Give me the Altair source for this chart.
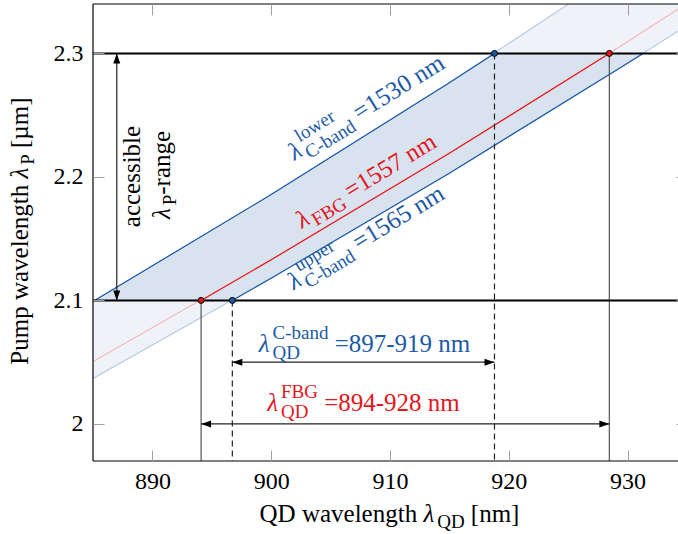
import math
import altair as alt
import pandas as pd

FONT = "'Liberation Serif', 'DejaVu Serif', serif"
BLUE = "#1d5aa6"
RED = "#e3161c"
LIGHT_BLUE = "#b4c8e6"
LIGHT_RED = "#f5b3b5"
DARK_FILL = "#d9e3f0"
LIGHT_FILL = "#eff3f9"
TICK_GRAY = "#a0a0a0"

# ---- axis window and layout ----
X_MIN, X_MAX = 885.0, 934.25
Y_MIN, Y_MAX = 1.97, 2.34
PAD_L, PAD_T, PAD_R, PAD_B = 93, 4, 0, 73
PLOT_W, PLOT_H = 585, 457

# ---- data ----
qd_nm = [885.0, 900.0, 915.0, 930.0, 935.0]
pump_cband_lower = [2.0993, 2.1857, 2.2763, 2.3715, 2.4043]   # signal 1530 nm
pump_fbg = [2.0505, 2.1329, 2.2191, 2.3094, 2.3405]           # signal 1557 nm
pump_cband_upper = [2.0368, 2.1180, 2.2030, 2.2920, 2.3226]   # signal 1565 nm

signal_nm = [1530, 1557, 1565]
qd_at_pump_min = [885.13, 894.10, 896.73]
qd_at_pump_max = [918.80, 928.47, 931.31]
pump_min, pump_max = 2.1, 2.3

# accessible part of the C-band region (inside the pump window)
band_qd = [885.13, 896.73, 900.0, 915.0, 918.80, 930.0, 931.31]
band_top = [2.1, 2.1667, 2.1857, 2.2763, 2.3, 2.3, 2.3]
band_bottom = [2.1, 2.1, 2.1180, 2.2030, 2.2253, 2.2920, 2.3]

cband_arrow_y = 2.05
fbg_arrow_y = 2.0
range_arrow_x = 887.0

x_ticks = [890, 900, 910, 920, 930]
y_ticks = [2.0, 2.1, 2.2, 2.3]

curves = dict(zip(signal_nm, [pump_cband_lower, pump_fbg, pump_cband_upper]))
line_color = {1530: (BLUE, LIGHT_BLUE), 1557: (RED, LIGHT_RED), 1565: (BLUE, LIGHT_BLUE)}

light_rows, dark_rows = [], []
for i, s in enumerate(signal_nm):
    dark, light = line_color[s]
    for x, y in zip(qd_nm, curves[s]):
        light_rows.append(dict(signal=s, qd=x, pump=y, stroke=light))
    lo, hi = qd_at_pump_min[i], qd_at_pump_max[i]
    pts = [(lo, pump_min)] + [(x, y) for x, y in zip(qd_nm, curves[s]) if lo < x < hi] + [(hi, pump_max)]
    for k, (x, y) in enumerate(pts):
        dark_rows.append(dict(signal=s, qd=x, pump=y, stroke=dark, k=k))
light_df = pd.DataFrame(light_rows)
dark_df = pd.DataFrame(dark_rows)

band_full = pd.DataFrame({"qd": qd_nm, "top": pump_cband_lower, "bottom": pump_cband_upper})
band_in = pd.DataFrame({"qd": band_qd, "top": band_top, "bottom": band_bottom})

drop_solid = pd.DataFrame({"qd": [qd_at_pump_min[1], qd_at_pump_max[1]],
                           "pump": [pump_min, pump_max], "floor": [Y_MIN, Y_MIN]})
drop_dashed = pd.DataFrame({"qd": [qd_at_pump_min[2], qd_at_pump_max[0]],
                            "pump": [pump_min, pump_max], "floor": [Y_MIN, Y_MIN]})
dots = pd.DataFrame({
    "qd": [qd_at_pump_min[1], qd_at_pump_max[1], qd_at_pump_min[2], qd_at_pump_max[0]],
    "pump": [pump_min, pump_max, pump_min, pump_max],
    "fill": [RED, RED, BLUE, BLUE],
})
h_arrows = pd.DataFrame({
    "qd": [qd_at_pump_min[2], qd_at_pump_min[1]],
    "qd2": [qd_at_pump_max[0], qd_at_pump_max[1]],
    "pump": [cband_arrow_y, fbg_arrow_y],
})
v_arrow = pd.DataFrame({"qd": [range_arrow_x], "pump": [pump_min], "pump2": [pump_max]})

heads = {
    "M0,0L1,-0.35L1,0.35Z": pd.DataFrame({"qd": [qd_at_pump_min[2], qd_at_pump_min[1]],
                                          "pump": [cband_arrow_y, fbg_arrow_y]}),
    "M0,0L-1,-0.35L-1,0.35Z": pd.DataFrame({"qd": [qd_at_pump_max[0], qd_at_pump_max[1]],
                                            "pump": [cband_arrow_y, fbg_arrow_y]}),
    "M0,0L0.35,1L-0.35,1Z": pd.DataFrame({"qd": [range_arrow_x], "pump": [pump_max]}),
    "M0,0L0.35,-1L-0.35,-1Z": pd.DataFrame({"qd": [range_arrow_x], "pump": [pump_min]}),
}

# ---- text with sub/superscripts, built from runs ----
GLYPH_W = {" ": 0.25, "=": 0.564, "-": 0.333, "[": 0.333, "]": 0.333, "µ": 0.5,
           "λ": 0.55, "a": 0.444, "b": 0.5, "c": 0.444, "d": 0.5, "e": 0.444,
           "g": 0.5, "h": 0.5, "i": 0.278, "l": 0.278, "m": 0.778, "n": 0.5,
           "o": 0.5, "p": 0.5, "r": 0.333, "s": 0.389, "t": 0.278, "u": 0.5,
           "v": 0.5, "w": 0.722, "B": 0.667, "C": 0.667, "D": 0.722, "F": 0.556,
           "G": 0.722, "P": 0.556, "Q": 0.722}
KX = PLOT_W / (X_MAX - X_MIN)
KY = PLOT_H / (Y_MAX - Y_MIN)
BIG, SMALL = 25, 19
SUP, SUB = -13, 6.5


def advance(text, size):
    return sum(GLYPH_W.get(c, 0.5) for c in text) * size


def to_data(px, py):
    return X_MIN + (px - PAD_L) / KX, Y_MAX - (py - PAD_T) / KY


def compose(cx, cy, angle, groups, color, rows):
    a = math.radians(angle)
    ux, uy = math.cos(a), math.sin(a)
    vx, vy = -math.sin(a), math.cos(a)
    widths = [max(advance(t, s) for t, s, _, _ in g) for g in groups]
    pos = -sum(widths) / 2
    for g, w in zip(groups, widths):
        for t, s, shift, ital in g:
            lead = len(t) - len(t.lstrip(" "))
            along = pos + advance(" " * lead, s)
            x, y = to_data(cx + along * ux + shift * vx, cy + along * uy + shift * vy)
            rows.append(dict(x=x, y=y, text=t.strip(" "), size=s,
                             angle=angle % 360, color=color, italic=ital))
        pos += w


L = lambda: ("λ", BIG, 0, True)
rows = []
compose(370.5, 114, -31.6, [[L()], [("lower", SMALL, SUP, False), ("C-band", SMALL, SUB, False)],
                            [(" =1530 nm", BIG, 0, False)]], BLUE, rows)
compose(370, 187.4, -31.2, [[L()], [("FBG", SMALL, 5.5, False)],
                            [(" =1557 nm", BIG, 0, False)]], RED, rows)
compose(370, 244, -31.2, [[L()], [("upper", SMALL, SUP, False), ("C-band", SMALL, SUB, False)],
                          [(" =1565 nm", BIG, 0, False)]], BLUE, rows)
compose(364.5, 352, 0, [[L()], [("C-band", SMALL, SUP, False), ("QD", SMALL, SUB, False)],
                        [(" =897-919 nm", BIG, 0, False)]], BLUE, rows)
compose(363.5, 411, 0, [[L()], [("FBG", SMALL, SUP, False), ("QD", SMALL, SUB, False)],
                        [(" =894-928 nm", BIG, 0, False)]], RED, rows)
compose(140, 176.5, 270, [[("accessible", BIG, 0, False)]], "black", rows)
compose(170, 175, 270, [[L()], [("P", SMALL, 5.5, False)], [("-range", BIG, 0, False)]], "black", rows)
compose(389.5, 522, 0, [[("QD wavelength ", BIG, 0, False)], [L()], [("QD", SMALL, 5.5, False)],
                        [(" [nm]", BIG, 0, False)]], "black", rows)
compose(28, 232, 270, [[("Pump wavelength ", BIG, 0, False)], [L()], [("P", SMALL, 5.5, False)],
                       [(" [µm]", BIG, 0, False)]], "black", rows)
txt = pd.DataFrame(rows)

# ---- scales and axes ----
xs = alt.Scale(domain=[X_MIN, X_MAX], nice=False, zero=False)
ys = alt.Scale(domain=[Y_MIN, Y_MAX], nice=False, zero=False)
common = dict(tickColor=TICK_GRAY, tickWidth=1, tickSize=11, domain=False, grid=False,
              title=None, zindex=1, labelFont=FONT, labelFontSize=24, labelColor="black",
              labelFlush=False, labelOverlap=False)
ax_bottom = alt.Axis(orient="bottom", values=x_ticks, offset=-11, labelPadding=8, format="d", **common)
ax_top = alt.Axis(orient="top", values=x_ticks, offset=-11, labels=False, **common)
ax_left = alt.Axis(orient="left", values=y_ticks, offset=-11, labelPadding=10, format=".1~f", **common)
ax_right = alt.Axis(orient="right", values=y_ticks, offset=-2, labels=False, **common)


def X(field, axis=None):
    return alt.X(field, type="quantitative", scale=xs, axis=axis)


def Y(field, axis=None):
    return alt.Y(field, type="quantitative", scale=ys, axis=axis)


band_light = alt.Chart(band_full).mark_area(color=LIGHT_FILL, clip=True).encode(
    x=X("qd", ax_bottom), y=Y("top", ax_left), y2="bottom")
band_dark = alt.Chart(band_in).mark_area(color=DARK_FILL).encode(
    x=X("qd", ax_top), y=Y("top", ax_right), y2="bottom")

lines_light = alt.Chart(light_df).mark_line(strokeWidth=1.1, clip=True).encode(
    x=X("qd"), y=Y("pump"), detail="signal:N", color=alt.Color("stroke:N", scale=None))
lines_dark = alt.Chart(dark_df).mark_line(strokeWidth=1.2).encode(
    x=X("qd"), y=Y("pump"), detail="signal:N", order="k:Q", color=alt.Color("stroke:N", scale=None))

window = alt.Chart(pd.DataFrame({"pump": [pump_min, pump_max]})).mark_rule(
    color="black", strokeWidth=2).encode(y=Y("pump"))

drops_s = alt.Chart(drop_solid).mark_rule(color="#555555", strokeWidth=1.2).encode(
    x=X("qd"), y=Y("pump"), y2="floor")
drops_d = alt.Chart(drop_dashed).mark_rule(color="#222222", strokeWidth=1.2, strokeDash=[6, 4]).encode(
    x=X("qd"), y=Y("pump"), y2="floor")

shafts_h = alt.Chart(h_arrows).mark_rule(color="#222222", strokeWidth=1.2).encode(
    x=X("qd"), x2="qd2", y=Y("pump"))
shaft_v = alt.Chart(v_arrow).mark_rule(color="#222222", strokeWidth=1.2).encode(
    x=X("qd"), y=Y("pump"), y2="pump2")
head_layers = [
    alt.Chart(df).mark_point(shape=path, size=400, filled=True, color="black", opacity=1,
                             strokeWidth=0).encode(x=X("qd"), y=Y("pump"))
    for path, df in heads.items()
]

dot_layer = alt.Chart(dots).mark_circle(size=36, stroke="black", strokeWidth=1, opacity=1).encode(
    x=X("qd"), y=Y("pump"), color=alt.Color("fill:N", scale=None))

text_enc = dict(x=X("x"), y=Y("y"), text="text:N",
                size=alt.Size("size:Q", scale=None),
                angle=alt.Angle("angle:Q", scale=None),
                color=alt.Color("color:N", scale=None))
text_plain = alt.Chart(txt[~txt["italic"]]).mark_text(
    font=FONT, align="left", baseline="alphabetic").encode(**text_enc)
text_ital = alt.Chart(txt[txt["italic"]]).mark_text(
    font=FONT, fontStyle="italic", align="left", baseline="alphabetic").encode(**text_enc)

one = pd.DataFrame({"k": [0]})
frame_left = alt.Chart(one).mark_rule(color="black", strokeWidth=1.2).encode(
    x=alt.value(0), y=alt.value(0), y2=alt.value(PLOT_H))
frame_top = alt.Chart(one).mark_rule(color="black", strokeWidth=1.2).encode(
    x=alt.value(0), x2=alt.value(PLOT_W), y=alt.value(0))
frame_bottom = alt.Chart(one).mark_rule(color="black", strokeWidth=1.2).encode(
    x=alt.value(0), x2=alt.value(PLOT_W), y=alt.value(PLOT_H))

chart = alt.layer(
    band_light, band_dark, lines_light, lines_dark, drops_s, drops_d, window,
    shafts_h, shaft_v, *head_layers, dot_layer, text_plain, text_ital,
    frame_left, frame_top, frame_bottom,
).resolve_axis(x="independent", y="independent").properties(
    width=PLOT_W, height=PLOT_H,
    autosize=alt.AutoSizeParams(type="none"),
    padding={"left": PAD_L, "top": PAD_T, "right": PAD_R, "bottom": PAD_B},
    background="white",
).configure_view(stroke=None)

chart.save("out.html", embed_options={"renderer": "svg", "actions": False})
